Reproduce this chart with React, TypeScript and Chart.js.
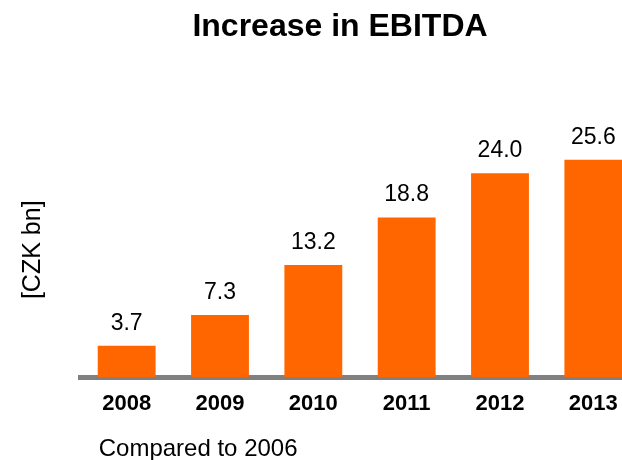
import React, { useEffect, useRef } from "react";
import { Chart, registerables } from "chart.js";

Chart.register(...registerables);

const categories = ["2008", "2009", "2010", "2011", "2012", "2013"];
const ebitdaIncrease = [3.7, 7.3, 13.2, 18.8, 24.0, 25.6];
const titleText = "Increase in EBITDA";
const yAxisTitle = "[CZK bn]";
const footnote = "Compared to 2006";

const FONT = "'Liberation Sans', Arial, sans-serif";
const ORANGE = "#FF6600";
const GREY = "#808080";

const valueLabels = {
  id: "valueLabels",
  afterDatasetsDraw(chart: any) {
    const ctx = chart.ctx;
    const meta = chart.getDatasetMeta(0);
    const data = chart.data.datasets[0].data as number[];
    ctx.save();
    ctx.font = `23px ${FONT}`;
    ctx.fillStyle = "#000";
    ctx.textAlign = "center";
    ctx.textBaseline = "alphabetic";
    meta.data.forEach((bar: any, i: number) => {
      ctx.fillText(data[i].toFixed(1), bar.x, bar.y - 16);
    });
    ctx.restore();
  },
};

const footnotePlugin = {
  id: "footnote",
  afterDraw(chart: any) {
    const ctx = chart.ctx;
    const first: any = chart.getDatasetMeta(0).data[0];
    if (!first) return;
    const left = first.x - first.width / 2;
    ctx.save();
    ctx.font = `24px ${FONT}`;
    ctx.fillStyle = "#000";
    ctx.textAlign = "left";
    ctx.textBaseline = "alphabetic";
    ctx.fillText(footnote, left + 1, chart.scales.x.bottom + 24.5);
    ctx.restore();
  },
};

export default function App() {
  const ref = useRef<HTMLCanvasElement | null>(null);
  useEffect(() => {
    if (!ref.current) return;
    const chart = new Chart(ref.current, {
      type: "bar",
      data: {
        labels: categories,
        datasets: [
          {
            data: ebitdaIncrease,
            backgroundColor: ORANGE,
            borderWidth: 0,
            barPercentage: 0.62,
            categoryPercentage: 1,
            yAxisID: "y",
          },
        ],
      },
      options: {
        responsive: false,
        animation: false,
        layout: { padding: { left: 0, right: 0, top: 0, bottom: 28.5 } },
        plugins: {
          legend: { display: false },
          tooltip: { enabled: false },
          title: {
            display: true,
            text: titleText,
            color: "#000",
            font: { family: FONT, size: 32, weight: "bold" },
            padding: { top: 8, bottom: 76 },
          },
        },
        scales: {
          x: {
            z: 1,
            grid: { display: false, drawTicks: false },
            border: { display: true, color: GREY, width: 5 },
            ticks: {
              color: "#000",
              padding: 14,
              font: { family: FONT, size: 22, weight: "bold" },
            },
          },
          y: {
            min: 0,
            max: 30,
            grid: { display: false, drawTicks: false },
            border: { display: false },
            ticks: { display: false },
            title: {
              display: true,
              text: yAxisTitle,
              color: "#000",
              font: { family: FONT, size: 25 },
              padding: { top: 18, bottom: 32 },
            },
          },
          yr: {
            type: "linear",
            position: "right",
            grid: { display: false, drawTicks: false },
            border: { display: false },
            ticks: { display: false },
            afterFit: (s: any) => {
              s.width = 40;
            },
          },
        },
      },
      plugins: [valueLabels, footnotePlugin],
    });
    return () => chart.destroy();
  }, []);
  return (
    <div style={{ position: "fixed", left: 0, top: 0, width: "100vw", height: "100vh", overflow: "hidden", background: "#fff" }}>
      <canvas ref={ref} width={680} height={460} style={{ display: "block" }} />
    </div>
  );
}
